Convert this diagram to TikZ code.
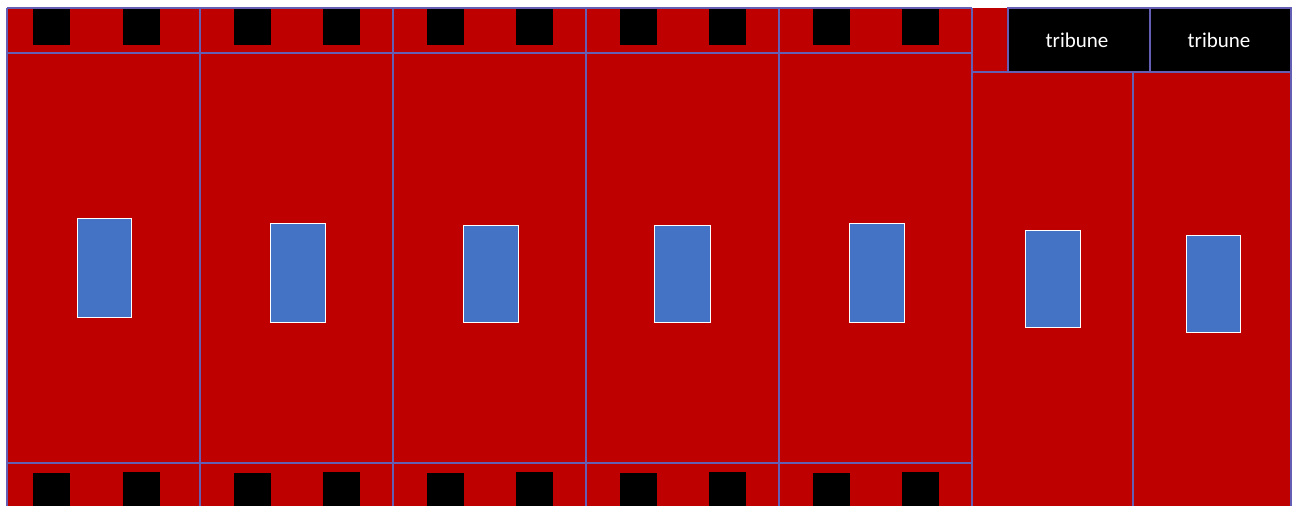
\documentclass[tikz,border=0pt]{standalone}
\usepackage{fontspec}
\setmainfont{Carlito}
\definecolor{redc}{RGB}{190,0,0}
\definecolor{gridc}{RGB}{100,95,180}
\definecolor{seatc}{RGB}{68,114,196}
\begin{document}
\begin{tikzpicture}[x=1pt,y=-1pt,
  gridline/.style={draw=gridc, line width=1.05pt},
  win/.style={fill=black},
  seat/.style={fill=seatc, draw=white, line width=1pt},
  trib/.style={fill=black, draw=gridc, line width=1.05pt},
  tribtext/.style={text=white, font=\fontsize{21}{24}\selectfont, inner sep=0pt}
]
\useasboundingbox (0,0) rectangle (1293,506);
% red background
\fill[redc] (7,8) rectangle (1291,506);
% windows top and bottom
\foreach \a/\b in {33/123, 234/323, 427/516, 620/709, 813/902}{
  \fill[win] (\a,8) rectangle ++(37,37);
  \fill[win] (\b,8) rectangle ++(37,37);
  \fill[win] (\a,473) rectangle (\a+37,506);
  \fill[win] (\b,472) rectangle (\b+37,506);
}
% grid of the left part
\draw[gridline] (7,8) -- (972,8);
\draw[gridline] (7,53) -- (972,53);
\draw[gridline] (7,463) -- (972,463);
\foreach \x in {7,200,393,586,779,972}{
  \draw[gridline] (\x,8) -- (\x,506);
}
% right part
\draw[gridline] (972,72) -- (1291,72);
\draw[gridline] (1133,72) -- (1133,506);
\draw[gridline] (1291,72) -- (1291,506);
\draw[trib] (1008,8) rectangle (1291,72);
\draw[gridline] (1150,8) -- (1150,72);
\node[tribtext] (t1) at (1077,40) {tribune};
\node[tribtext] (t2) at (1219,40) {tribune};
% seats
\draw[seat] (77,218) rectangle (131,317);
\draw[seat] (270,223) rectangle (325,322);
\draw[seat] (463,225) rectangle (518,322);
\draw[seat] (654,225) rectangle (710,322);
\draw[seat] (849,223) rectangle (904,322);
\draw[seat] (1025,230) rectangle (1080,327);
\draw[seat] (1186,235) rectangle (1240,332);
\end{tikzpicture}
\end{document}
